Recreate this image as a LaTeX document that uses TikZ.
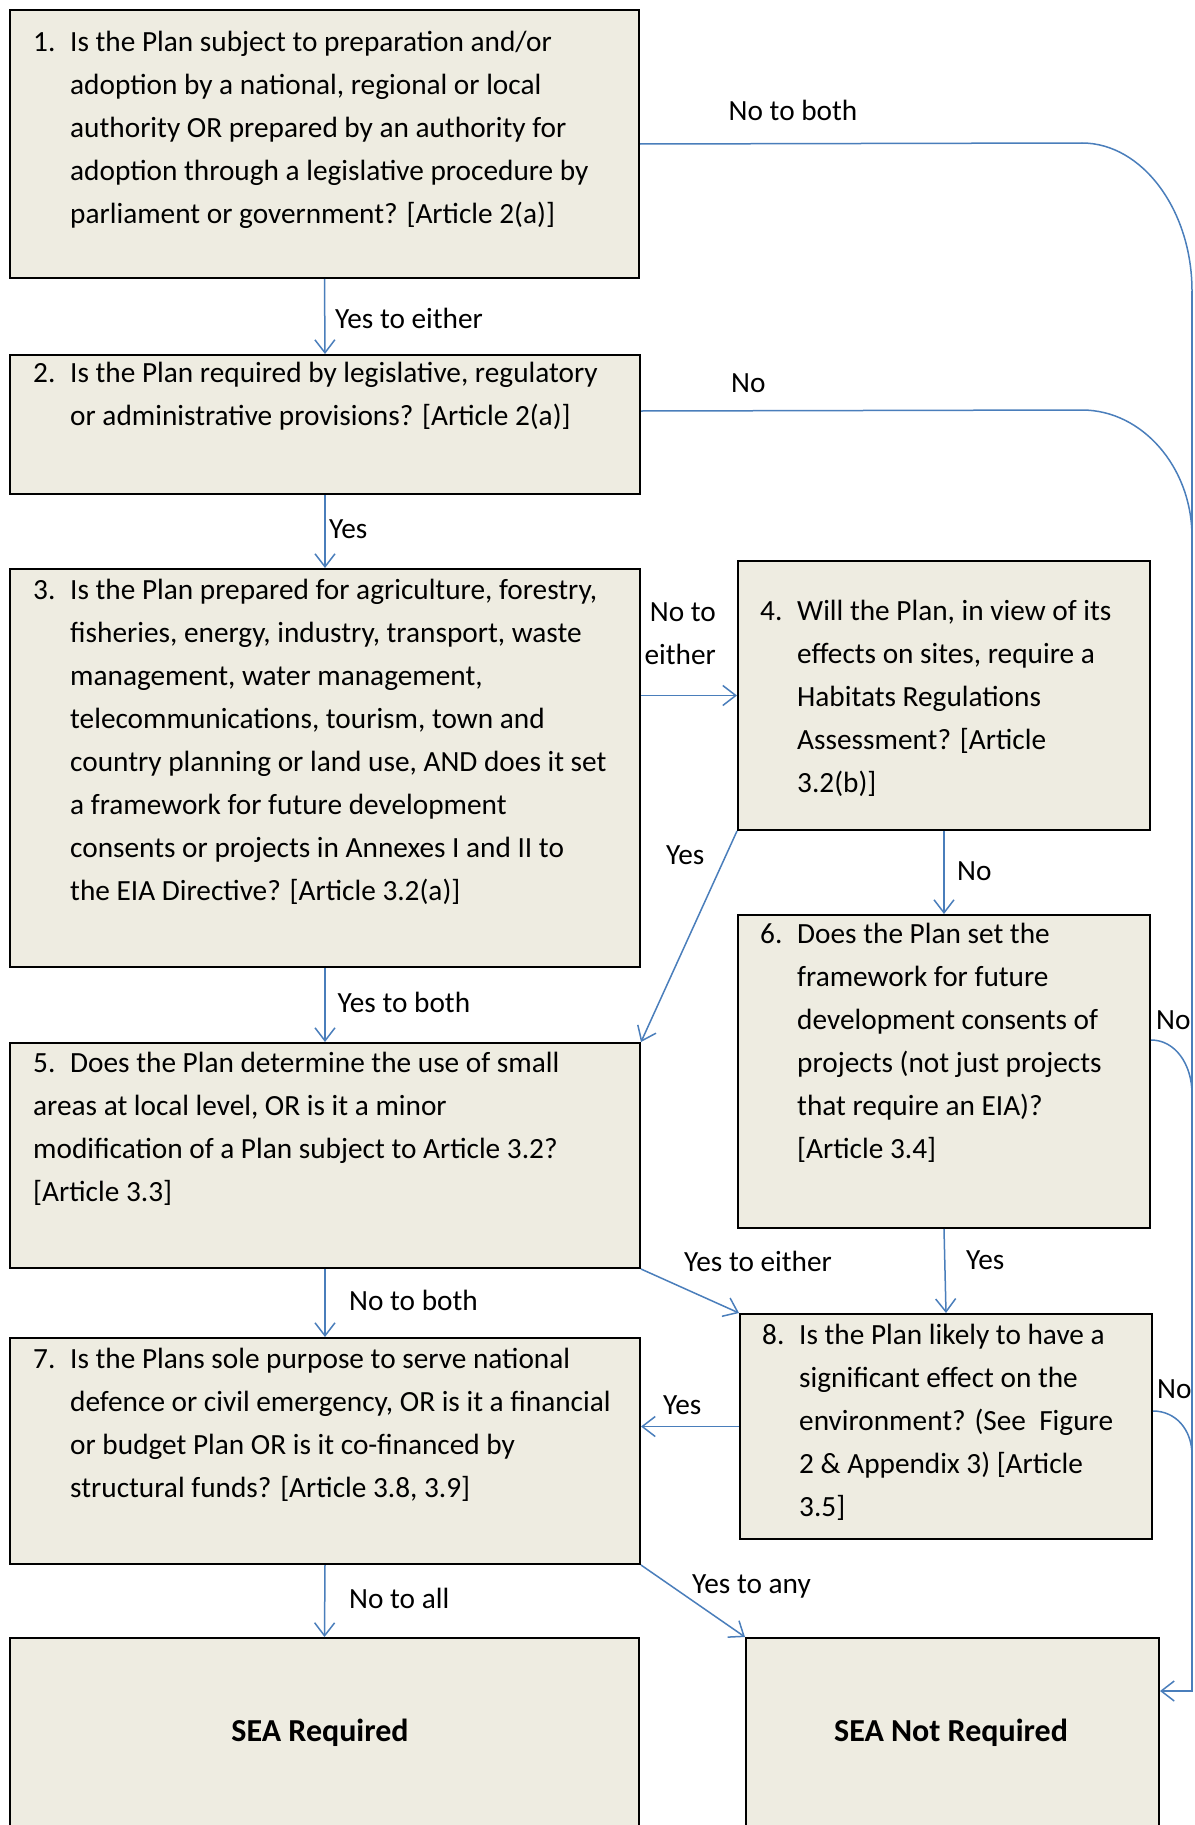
\documentclass[tikz,border=0pt]{standalone}
\usepackage{fontspec}
\setmainfont{Carlito}
\usetikzlibrary{arrows.meta}
\definecolor{boxfill}{HTML}{EEECE1}
\definecolor{link}{HTML}{4A7EBB}
\newcommand{\qlines}[2]{\begin{tabular}[t]{@{}p{37pt}@{}l@{}}#1&#2\end{tabular}}

\begin{document}
\begin{tikzpicture}[x=1pt,y=-1pt,
  qbox/.style={draw=black,line width=2pt,fill=boxfill,inner sep=0pt,anchor=north west},
  qtext/.style={inner sep=0pt,anchor=base west,font=\fontsize{29.3}{43}\selectfont},
  lbl/.style={inner sep=0pt,anchor=base west,font=\fontsize{29.3}{43}\selectfont},
  endtext/.style={inner sep=0pt,anchor=base,font=\fontsize{32}{40}\selectfont\bfseries},
  conn/.style={draw=link,line width=1.5pt},
  arr/.style={conn,-{Straight Barb[length=13pt,width=20pt]}}]
  \path[use as bounding box] (0,0) rectangle (1194,1825);
  \fill[white] (0,0) rectangle (1194,1825);

  \node[qbox,minimum width=629pt,minimum height=268pt] (q1) at (9,9) {};
  \node[qbox,minimum width=630pt,minimum height=139pt] (q2) at (9,354) {};
  \node[qbox,minimum width=630pt,minimum height=398pt] (q3) at (9,568) {};
  \node[qbox,minimum width=412pt,minimum height=269pt] (q4) at (737,560) {};
  \node[qbox,minimum width=630pt,minimum height=225pt] (q5) at (9,1042) {};
  \node[qbox,minimum width=412pt,minimum height=313pt] (q6) at (737,914) {};
  \node[qbox,minimum width=630pt,minimum height=226pt] (q7) at (9,1337) {};
  \node[qbox,minimum width=412pt,minimum height=225pt] (q8) at (739,1313) {};
  \node[qbox,minimum width=629pt,minimum height=240pt] (req) at (9,1637) {};
  \node[qbox,minimum width=413pt,minimum height=240pt] (notreq) at (745,1637) {};

  \node[qtext] (q1txt) at (33,52) {\qlines{1.}{Is the Plan subject to preparation and/or\\
    &adoption by a national, regional or local\\
    &authority OR prepared by an authority for\\
    &adoption through a legislative procedure by\\
    &parliament or government? [Article 2(a)]}};
  \node[qtext] (q2txt) at (33,382) {\qlines{2.}{Is the Plan required by legislative, regulatory\\
    &or administrative provisions? [Article 2(a)]}};
  \node[qtext] (q3txt) at (33,599) {\qlines{3.}{Is the Plan prepared for agriculture, forestry,\\
    &fisheries, energy, industry, transport, waste\\
    &management, water management,\\
    &telecommunications, tourism, town and\\
    &country planning or land use, AND does it set\\
    &a framework for future development\\
    &consents or projects in Annexes I and II to\\
    &the EIA Directive? [Article 3.2(a)]}};
  \node[qtext] (q4txt) at (760,620) {\qlines{4.}{Will the Plan, in view of its\\
    &effects on sites, require a\\
    &Habitats Regulations\\
    &Assessment? [Article\\
    &3.2(b)]}};
  \node[qtext] (q6txt) at (760,943) {\qlines{6.}{Does the Plan set the\\
    &framework for future\\
    &development consents of\\
    &projects (not just projects\\
    &that require an EIA)?\\
    &{[}Article 3.4]}};
  \node[qtext] (q5txt) at (33,1072) {\begin{tabular}[t]{@{}l@{}}\makebox[37pt][l]{5.}Does the Plan determine the use of small\\
    areas at local level, OR is it a minor\\
    modification of a Plan subject to Article 3.2?\\
    {[}Article 3.3]\end{tabular}};
  \node[qtext] (q8txt) at (762,1344) {\qlines{8.}{Is the Plan likely to have a\\
    &significant effect on the\\
    &environment? (See\ \ Figure\\
    &2 \& Appendix 3) [Article\\
    &3.5]}};
  \node[qtext] (q7txt) at (33,1368) {\qlines{7.}{Is the Plans sole purpose to serve national\\
    &defence or civil emergency, OR is it a financial\\
    &or budget Plan OR is it co-financed by\\
    &structural funds? [Article 3.8, 3.9]}};
  \node[endtext] (reqtxt) at (320,1741) {SEA Required};
  \node[endtext] (notreqtxt) at (951,1741) {SEA Not Required};

  \coordinate (b1) at (1082,143);
  \coordinate (trunk) at (1192,291);
  \coordinate (b2) at (1082,410);
  \coordinate (m2) at (1192,537);
  \coordinate (m6) at (1192,1094);
  \coordinate (m8) at (1192,1455);
  \coordinate (rtail) at (1192,1691);

  \draw[conn] (q1.east) -- (b1) .. controls +(60,0) and +(0,-81) .. (trunk);
  \draw[arr] (trunk) -- (rtail) -- (notreq.east |- rtail);
  \draw[conn] ([yshift=13.5pt]q2.east) -- (b2) .. controls +(60,0) and +(0,-70) .. (m2);
  \draw[conn] ([yshift=31.5pt]q6.east) .. controls +(24,0) and +(0,-30) .. (m6);
  \draw[conn] ([yshift=15.5pt]q8.east) .. controls +(23,0) and +(0,-25) .. (m8);

  \draw[arr] (q1.south) -- (q2.north);
  \draw[arr] (q2.south) -- (q3.north);
  \draw[arr] (q3.east |- q4.west) -- (q4.west);
  \draw[arr] (q4.south) -- (q6.north);
  \draw[arr] (q4.south west) -- (q5.north east);
  \draw[arr] (q3.south) -- (q5.north);
  \draw[arr] (q6.south) -- (q8.north);
  \draw[arr] (q5.south east) -- (q8.north west);
  \draw[arr] (q5.south) -- (q7.north);
  \draw[arr] (q8.west) -- (q7.east |- q8.west);
  \draw[arr] (q7.south) -- (req.north);
  \draw[arr] (q7.south east) -- (notreq.north west);

  \node[lbl] (l1no) at (728.5,121) {No to both};
  \node[lbl] (l12) at (335,328) {Yes to either};
  \node[lbl] (l2no) at (731,392) {No};
  \node[lbl] (l23) at (329,538) {Yes};
  \node[lbl,anchor=east,align=right] (l34) at (716,634) {No to\\either};
  \node[lbl] (l45) at (666,864) {Yes};
  \node[lbl] (l46) at (957,880) {No};
  \node[lbl] (l35) at (337.5,1012) {Yes to both};
  \node[lbl] (l6no) at (1156,1029) {No};
  \node[lbl] (l58) at (684,1271) {Yes to either};
  \node[lbl] (l68) at (966,1269) {Yes};
  \node[lbl] (l57) at (349,1310) {No to both};
  \node[lbl] (l87) at (663,1414) {Yes};
  \node[lbl] (l8no) at (1157,1398) {No};
  \node[lbl] (l7req) at (349,1608) {No to all};
  \node[lbl] (l7not) at (692,1593) {Yes to any};
\end{tikzpicture}
\end{document}
